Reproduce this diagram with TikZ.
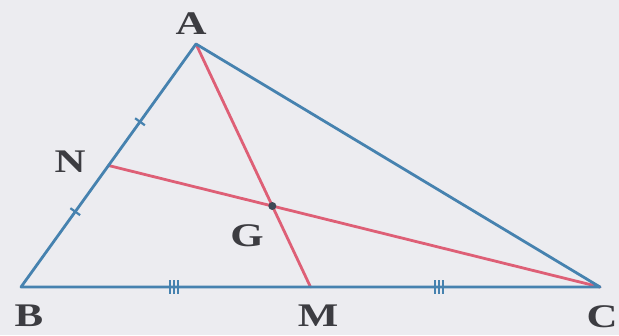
\documentclass[tikz,border=0pt]{standalone}
\usepackage{fontspec}
\setmainfont{Liberation Serif}
\usetikzlibrary{calc}
\definecolor{sideblue}{RGB}{70,130,175}
\definecolor{medred}{RGB}{222,95,118}
\definecolor{bgray}{RGB}{236,236,240}
\definecolor{ink}{RGB}{60,60,65}
\newcommand{\wide}[1]{\scalebox{1.3}[1]{#1}}
\tikzset{
  side/.style={sideblue, line width=2.8pt, line cap=round, line join=round},
  median/.style={medred, line width=2.8pt, line cap=round},
  lbl/.style={text=ink, font=\fontsize{33}{33}\selectfont\bfseries, inner sep=0pt},
  tick/.style={sideblue, line width=2.2pt},
}
\begin{document}
\begin{tikzpicture}[x=1pt,y=-1pt]
\fill[bgray] (0,0) rectangle (619,335);
\useasboundingbox (0,0) rectangle (619,335);
\coordinate (A) at (196,44);
\coordinate (B) at (21,287);
\coordinate (C) at (600,287);
\coordinate (M) at ($(B)!0.5!(C)$);
\coordinate (N) at ($(A)!0.5!(B)$);
\coordinate (G) at ($(A)!0.6667!(M)$);
% medians
\draw[median] (A) -- (M);
\draw[median] (N) -- (C);
% sides
\draw[side] (A) -- (B) -- (C) -- cycle;
% single ticks on AB
\coordinate (t1) at ($(A)!0.32!(B)$);
\coordinate (t2) at ($(A)!0.69!(B)$);
\draw[tick] ($(t1)!6pt!90:(A)$) -- ($(t1)!6pt!-90:(A)$);
\draw[tick] ($(t2)!6pt!90:(A)$) -- ($(t2)!6pt!-90:(A)$);
% triple ticks on BC
\coordinate (u1) at ($(B)!0.264!(C)$);
\coordinate (u2) at ($(B)!0.722!(C)$);
\foreach \d in {-4,0,4}{
  \draw[tick] ($(u1)+(\d,-7)$) -- ($(u1)+(\d,7)$);
  \draw[tick] ($(u2)+(\d,-7)$) -- ($(u2)+(\d,7)$);
}
% centroid dot
\fill[ink!80!sideblue] (G) circle (4pt);
% labels
\node[lbl] (lA) at (191,24) {\wide{A}};
\node[lbl] (lN) at (70,162) {\wide{N}};
\node[lbl] (lG) at (247,236) {\wide{G}};
\node[lbl] (lB) at (29,316) {\wide{B}};
\node[lbl] (lM) at (318,316) {\wide{M}};
\node[lbl] (lC) at (602,317) {\wide{C}};
\end{tikzpicture}
\end{document}
